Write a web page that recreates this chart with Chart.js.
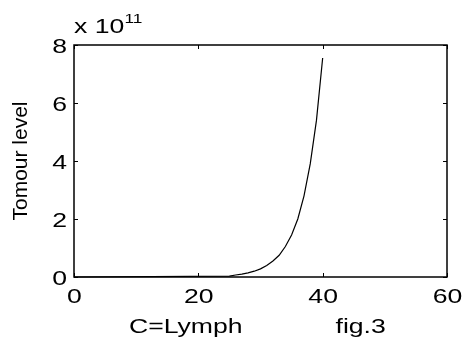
<!DOCTYPE html>
<html>
<head>
<meta charset="utf-8">
<script src="https://cdn.jsdelivr.net/npm/chart.js@4/dist/chart.umd.min.js"></script>
<style>
  html, body { margin: 0; padding: 0; background: #fff; }
  canvas { display: block; }
</style>
</head>
<body>
<canvas id="tumourChart" width="464" height="339"></canvas>
<script>
// days (x) and tumour level (y)
const days = [0, 25, 26, 27, 28, 29, 30, 31, 32, 33, 34, 35, 36, 37, 38, 39, 40];
const tumourLevel = [0, 0.03e11, 0.07e11, 0.10e11, 0.14e11, 0.20e11, 0.28e11, 0.40e11, 0.55e11,
    0.75e11, 1.05e11, 1.45e11, 2.0e11, 2.8e11, 3.9e11, 5.4e11, 7.55e11];

const xTicks = [0, 20, 40, 60];
const yTicks = [0, 2e11, 4e11, 6e11, 8e11];
const yTickLabels = ['0', '2', '4', '6', '8'];

const FONT = '"Liberation Sans", Arial, sans-serif';
const SX = 1.33; // horizontal text in the figure is drawn wide

function wideText(ctx, text, x, y, size, align) {
    ctx.save();
    ctx.font = `${size}px ${FONT}`;
    ctx.textBaseline = 'alphabetic';
    ctx.translate(x, y);
    ctx.scale(SX, 1);
    const w = ctx.measureText(text).width;
    let dx = 0;
    if (align === 'right') dx = -w;
    else if (align === 'center') dx = -w / 2;
    ctx.fillText(text, dx, 0);
    ctx.restore();
}

const matlabAxes = {
    id: 'matlabAxes',
    afterDraw(chart) {
        const { ctx, chartArea: a, scales: { x, y } } = chart;
        ctx.save();
        ctx.strokeStyle = '#000';
        ctx.fillStyle = '#000';
        ctx.lineWidth = 1.5;
        ctx.strokeRect(a.left, a.top, a.right - a.left, a.bottom - a.top);

        // inward ticks on all four sides
        ctx.lineWidth = 1;
        const tl = 4;
        ctx.beginPath();
        xTicks.forEach(v => {
            const px = Math.round(x.getPixelForValue(v)) + 0.5;
            ctx.moveTo(px, a.bottom); ctx.lineTo(px, a.bottom - tl);
            ctx.moveTo(px, a.top); ctx.lineTo(px, a.top + tl);
        });
        yTicks.forEach(v => {
            const py = Math.round(y.getPixelForValue(v)) + 0.5;
            ctx.moveTo(a.left, py); ctx.lineTo(a.left + tl, py);
            ctx.moveTo(a.right, py); ctx.lineTo(a.right - tl, py);
        });
        ctx.stroke();

        // tick labels
        xTicks.forEach(v => {
            wideText(ctx, String(v), x.getPixelForValue(v) + 0.5, 303.3, 20, 'center');
        });
        yTicks.forEach((v, i) => {
            wideText(ctx, yTickLabels[i], 67, y.getPixelForValue(v) + 7.5, 20, 'right');
        });

        // exponent label
        wideText(ctx, 'x 10', 74, 33.3, 20, 'left');
        wideText(ctx, '11', 124.5, 22.7, 13, 'left');

        // x title
        wideText(ctx, 'C=Lymph', 129, 333.3, 20, 'left');
        wideText(ctx, 'fig.3', 335.5, 333.3, 20, 'left');

        // y title
        ctx.save();
        ctx.font = `21px ${FONT}`;
        ctx.textAlign = 'center';
        ctx.textBaseline = 'alphabetic';
        ctx.translate(27.3, (a.top + a.bottom) / 2);
        ctx.rotate(-Math.PI / 2);
        ctx.fillText('Tomour level', 0, 0);
        ctx.restore();

        ctx.restore();
    }
};

new Chart(document.getElementById('tumourChart'), {
    type: 'line',
    data: {
        datasets: [{
            data: days.map((d, i) => ({ x: d, y: tumourLevel[i] })),
            borderColor: '#000',
            borderWidth: 1.2,
            pointRadius: 0,
            tension: 0,
            fill: false,
            clip: false
        }]
    },
    options: {
        responsive: false,
        animation: false,
        events: [],
        layout: {
            padding: { left: 74, top: 45, right: 17, bottom: 62 }
        },
        plugins: {
            legend: { display: false },
            tooltip: { enabled: false }
        },
        scales: {
            x: {
                type: 'linear',
                min: 0,
                max: 60,
                display: false
            },
            y: {
                type: 'linear',
                min: 0,
                max: 8e11,
                display: false
            }
        }
    },
    plugins: [matlabAxes]
});
</script>
</body>
</html>
